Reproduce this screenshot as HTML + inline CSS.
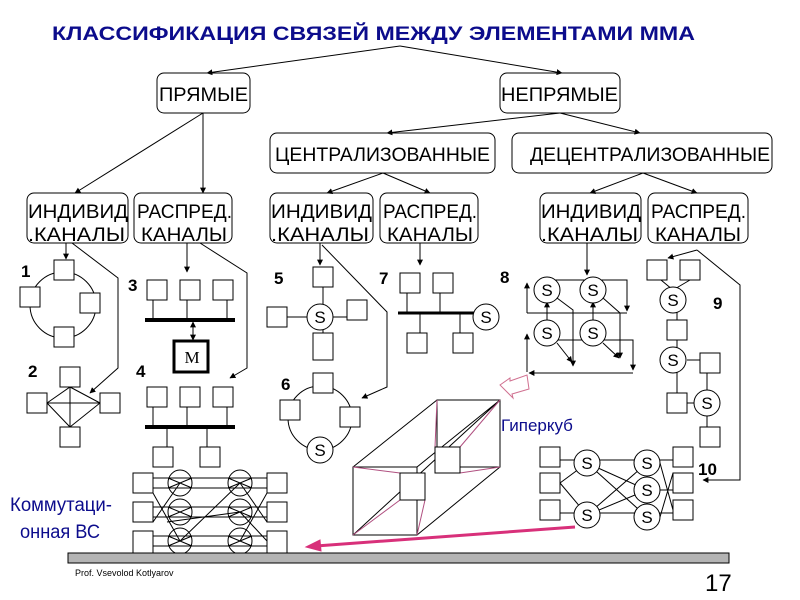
<!DOCTYPE html>
<html><head><meta charset="utf-8"><style>
html,body{margin:0;padding:0;background:#fff}
svg{display:block}
text{font-family:"Liberation Sans",sans-serif}
.b{font-family:"Liberation Sans",sans-serif;font-size:19px;fill:#000}
.n{font-family:"Liberation Serif",serif;font-weight:bold;font-size:17px}
.s{font-family:"Liberation Serif",serif;font-size:17px;text-anchor:middle}
</style></head><body>
<svg width="800" height="600" viewBox="0 0 800 600" xmlns="http://www.w3.org/2000/svg">
<defs><marker id="a" viewBox="0 0 10 10" refX="9" refY="5" markerWidth="6" markerHeight="6" orient="auto"><path d="M0,0L10,5L0,10z"/></marker></defs>
<text x="52" y="40" textLength="643" lengthAdjust="spacingAndGlyphs" font-size="19" font-weight="bold" fill="#0c0c8c">КЛАССИФИКАЦИЯ СВЯЗЕЙ МЕЖДУ ЭЛЕМЕНТАМИ ММА</text>
<g stroke="#000" fill="none" stroke-width="1">
<line x1="400" y1="46" x2="207" y2="73" marker-end="url(#a)"/>
<line x1="400" y1="46" x2="562" y2="73" marker-end="url(#a)"/>
<rect x="157" y="73" width="93" height="40" rx="7"/>
<rect x="500" y="73" width="120" height="40" rx="7"/>
<line x1="560" y1="113" x2="387" y2="133" marker-end="url(#a)"/>
<line x1="560" y1="113" x2="640" y2="133" marker-end="url(#a)"/>
<rect x="270" y="133" width="225" height="40" rx="7"/>
<rect x="512" y="133" width="260" height="40" rx="7"/>
<line x1="203" y1="113" x2="75" y2="193" marker-end="url(#a)"/>
<line x1="203" y1="113" x2="203" y2="193" marker-end="url(#a)"/>
<line x1="383" y1="173" x2="327" y2="193" marker-end="url(#a)"/>
<line x1="383" y1="173" x2="430" y2="193" marker-end="url(#a)"/>
<line x1="643" y1="173" x2="590" y2="193" marker-end="url(#a)"/>
<line x1="643" y1="173" x2="697" y2="193" marker-end="url(#a)"/>
<rect x="27" y="193" width="101" height="50" rx="7"/>
<rect x="134" y="193" width="98" height="50" rx="7"/>
<rect x="270" y="193" width="103" height="50" rx="7"/>
<rect x="380" y="193" width="98" height="50" rx="7"/>
<rect x="540" y="193" width="101" height="50" rx="7"/>
<rect x="648" y="193" width="100" height="50" rx="7"/>
</g>
<g class="b" lengthAdjust="spacingAndGlyphs">
<text x="159" y="101" textLength="89" lengthAdjust="spacingAndGlyphs">ПРЯМЫЕ</text>
<text x="501" y="101" textLength="117" lengthAdjust="spacingAndGlyphs">НЕПРЯМЫЕ</text>
<text x="275" y="161" textLength="215" lengthAdjust="spacingAndGlyphs">ЦЕНТРАЛИЗОВАННЫЕ</text>
<text x="530" y="161" textLength="240" lengthAdjust="spacingAndGlyphs">ДЕЦЕНТРАЛИЗОВАННЫЕ</text>
<text x="28" y="218" textLength="100" lengthAdjust="spacingAndGlyphs">ИНДИВИД</text><text x="28" y="241" textLength="97" lengthAdjust="spacingAndGlyphs">.КАНАЛЫ</text>
<text x="137" y="218" textLength="95" lengthAdjust="spacingAndGlyphs">РАСПРЕД.</text><text x="141" y="241" textLength="86" lengthAdjust="spacingAndGlyphs">КАНАЛЫ</text>
<text x="271" y="218" textLength="101" lengthAdjust="spacingAndGlyphs">ИНДИВИД</text><text x="271" y="241" textLength="98" lengthAdjust="spacingAndGlyphs">.КАНАЛЫ</text>
<text x="383" y="218" textLength="94" lengthAdjust="spacingAndGlyphs">РАСПРЕД.</text><text x="387" y="241" textLength="86" lengthAdjust="spacingAndGlyphs">КАНАЛЫ</text>
<text x="541" y="218" textLength="100" lengthAdjust="spacingAndGlyphs">ИНДИВИД</text><text x="541" y="241" textLength="97" lengthAdjust="spacingAndGlyphs">.КАНАЛЫ</text>
<text x="651" y="218" textLength="95" lengthAdjust="spacingAndGlyphs">РАСПРЕД.</text><text x="655" y="241" textLength="86" lengthAdjust="spacingAndGlyphs">КАНАЛЫ</text>
</g>
<g class="n">
<text x="21" y="277">1</text><text x="128" y="291">3</text><text x="28" y="377">2</text><text x="136" y="377">4</text>
<text x="274" y="284">5</text><text x="379" y="284">7</text><text x="281" y="390">6</text>
<text x="500" y="283">8</text><text x="713" y="309">9</text><text x="698" y="475">10</text>
</g>
<g stroke="#000" fill="none" stroke-width="1">
<line x1="66" y1="243" x2="66" y2="259" marker-end="url(#a)"/>
<circle cx="63" cy="305" r="33"/>
<g fill="#fff"><rect x="54" y="260" width="20" height="20"/><rect x="20" y="287" width="20" height="20"/><rect x="80" y="293" width="20" height="20"/><rect x="54" y="327" width="20" height="20"/></g>
<polyline points="72,243 118,278 118,368 90,393" marker-end="url(#a)"/>
<path d="M47,403L70,387L100,403L70,427Z M47,403L100,403 M70,387L70,427 M47,403L70,427 M100,403L70,387"/>
<g fill="#fff"><rect x="60" y="367" width="20" height="20"/><rect x="27" y="393" width="20" height="20"/><rect x="100" y="393" width="20" height="20"/><rect x="60" y="427" width="20" height="20"/></g>
<line x1="187" y1="243" x2="187" y2="272" marker-end="url(#a)"/>
<rect x="147" y="280" width="20" height="20"/><rect x="180" y="280" width="20" height="20"/><rect x="213" y="280" width="20" height="20"/>
<path d="M153,300V320M187,300V320M227,300V320"/>
<line x1="145" y1="320" x2="235" y2="320" stroke-width="4"/>
<line x1="193" y1="330" x2="193" y2="340" marker-end="url(#a)"/>
<line x1="193" y1="332" x2="193" y2="322" marker-end="url(#a)"/>
<rect x="174" y="341" width="34" height="31" stroke-width="3"/>
<polyline points="200,243 247,273 247,368 230,378" marker-end="url(#a)"/>
<rect x="147" y="387" width="20" height="20"/><rect x="180" y="387" width="20" height="20"/><rect x="213" y="387" width="20" height="20"/>
<path d="M153,407V427M187,407V427M227,407V427M167,427V447M207,427V447"/>
<line x1="145" y1="427" x2="235" y2="427" stroke-width="4"/>
<rect x="153" y="447" width="20" height="20"/><rect x="200" y="447" width="20" height="20"/>
<path d="M153,478H267M153,488H267M153,507H267M153,517H267M153,536H267M153,546H267M153,493L180,541M153,522L180,483M167,522L240,512M180,541L240,483M240,483L267,522M240,512L267,541M267,493L240,541"/>
<g fill="#fff"><rect x="133" y="473" width="20" height="20"/><rect x="133" y="502" width="20" height="20"/><rect x="133" y="531" width="20" height="22"/><rect x="267" y="473" width="20" height="20"/><rect x="267" y="502" width="20" height="20"/><rect x="267" y="531" width="20" height="22"/></g>
<ellipse cx="180" cy="483" rx="12" ry="13"/><ellipse cx="180" cy="512" rx="12" ry="13"/><ellipse cx="180" cy="541" rx="12" ry="13"/>
<ellipse cx="240" cy="483" rx="12" ry="13"/><ellipse cx="240" cy="512" rx="12" ry="13"/><ellipse cx="240" cy="541" rx="12" ry="13"/>
<path d="M168,478L192,488M168,488L192,478M168,507L192,517M168,517L192,507M168,536L192,546M168,546L192,536M228,478L252,488M228,488L252,478M228,507L252,517M228,517L252,507M228,536L252,546M228,546L252,536"/>
<line x1="320" y1="243" x2="320" y2="265" marker-end="url(#a)"/>
<path d="M323,287V333M287,317H347"/>
<g fill="#fff"><rect x="313" y="267" width="20" height="20"/><rect x="267" y="307" width="20" height="20"/><rect x="347" y="300" width="20" height="20"/><rect x="313" y="333" width="20" height="27"/><circle cx="320" cy="317" r="13"/></g>
<polyline points="322,245 387,312 387,387 362,398" marker-end="url(#a)"/>
<circle cx="320" cy="418" r="32"/>
<g fill="#fff"><rect x="313" y="373" width="20" height="20"/><rect x="280" y="400" width="20" height="20"/><rect x="340" y="407" width="20" height="20"/><circle cx="320" cy="450" r="13"/></g>
<line x1="420" y1="243" x2="420" y2="265" marker-end="url(#a)"/>
<rect x="400" y="273" width="20" height="20"/><rect x="433" y="273" width="20" height="20"/>
<path d="M407,293V313M440,293V313M420,313V333M460,313V333"/>
<line x1="398" y1="313" x2="475" y2="313" stroke-width="3"/>
<circle cx="486" cy="317" r="13" fill="#fff"/>
<rect x="407" y="333" width="20" height="20"/><rect x="453" y="333" width="20" height="20"/>
<rect x="353" y="467" width="64" height="68"/><rect x="437" y="400" width="63" height="67"/>
<path d="M353,467L437,400M417,467L500,400M417,535L500,467M353,535L500,400"/>
<path d="M353,467L400,473M417,535L425,500M437,400L435,447M500,467L460,473M353,535L400,500M500,400L460,447" stroke="#b05080"/>
<rect x="400" y="473" width="25" height="27" fill="#fff"/><rect x="435" y="447" width="25" height="26" fill="#fff"/>
<path d="M500,385L510,378L510,381L527,375L529,389L512,394L513,398Z" stroke="#d07090" fill="#fff"/>
<line x1="575" y1="527" x2="316" y2="546" stroke="#d8307a" stroke-width="3"/>
<path d="M306,547L320,540L321,551Z" fill="#d8307a" stroke="#d8307a"/>
<line x1="587" y1="243" x2="587" y2="275" marker-end="url(#a)"/>
<path d="M547,280H627V310M527,313H627M527,313V285M547,340H633V368M633,373H531M527,372V336"/>
<line x1="627" y1="300" x2="627" y2="311" marker-end="url(#a)"/>
<line x1="527" y1="300" x2="527" y2="283" marker-end="url(#a)"/>
<line x1="633" y1="360" x2="633" y2="370" marker-end="url(#a)"/>
<line x1="560" y1="373" x2="529" y2="373" marker-end="url(#a)"/>
<line x1="527" y1="350" x2="527" y2="334" marker-end="url(#a)"/>
<line x1="547" y1="320" x2="547" y2="302" marker-end="url(#a)"/>
<line x1="593" y1="320" x2="593" y2="302" marker-end="url(#a)"/>
<polyline points="557,298 573,310 573,366" marker-end="url(#a)"/>
<polyline points="603,298 620,313 620,358" marker-end="url(#a)"/>
<line x1="557" y1="343" x2="572" y2="362" marker-end="url(#a)"/>
<line x1="603" y1="343" x2="619" y2="358" marker-end="url(#a)"/>
<g fill="#fff"><circle cx="547" cy="290" r="13"/><circle cx="593" cy="290" r="13"/><circle cx="547" cy="333" r="13"/><circle cx="593" cy="333" r="13"/></g>
<line x1="697" y1="250" x2="668" y2="258" marker-end="url(#a)"/>
<polyline points="697,250 740,285 740,480 703,480" marker-end="url(#a)"/>
<path d="M661,280L673,290M690,280L673,290M677,300V393M687,360H707V403M687,403H707M707,403V427"/>
<g fill="#fff"><rect x="647" y="260" width="20" height="20"/><rect x="680" y="260" width="20" height="20"/><circle cx="673" cy="300" r="13"/><rect x="667" y="320" width="20" height="20"/><circle cx="673" cy="360" r="13"/><rect x="700" y="353" width="20" height="20"/><rect x="667" y="393" width="20" height="20"/><circle cx="707" cy="403" r="13"/><rect x="700" y="427" width="20" height="20"/></g>
<path d="M560,460H673M560,513H673M560,483L587,463M560,483L587,515M587,463L647,517M587,463L647,490M587,515L647,463M587,515L647,490M647,490H673M660,463L673,510M660,517L673,473"/>
<g fill="#fff"><rect x="540" y="447" width="20" height="20"/><rect x="540" y="473" width="20" height="20"/><rect x="540" y="500" width="20" height="20"/><rect x="673" y="447" width="20" height="20"/><rect x="673" y="473" width="20" height="20"/><rect x="673" y="500" width="20" height="20"/>
<circle cx="587" cy="463" r="13"/><circle cx="587" cy="515" r="13"/><circle cx="647" cy="463" r="13"/><circle cx="647" cy="490" r="13"/><circle cx="647" cy="517" r="13"/></g>
</g>
<text class="s" x="192" y="363" font-size="18">М</text>
<g class="s">
<text x="320" y="323">S</text><text x="320" y="456">S</text><text x="486" y="323">S</text>
<text x="547" y="296">S</text><text x="593" y="296">S</text><text x="547" y="339">S</text><text x="593" y="339">S</text>
<text x="673" y="306">S</text><text x="673" y="366">S</text><text x="707" y="409">S</text>
<text x="587" y="469">S</text><text x="587" y="521">S</text><text x="647" y="469">S</text><text x="647" y="496">S</text><text x="647" y="523">S</text>
</g>
<text x="501" y="431" font-family="Liberation Serif,serif" font-size="17" fill="#0c0c8c">Гиперкуб</text>
<text x="10" y="511" textLength="102" lengthAdjust="spacingAndGlyphs" font-family="Liberation Serif,serif" font-size="19" fill="#0c0c8c">Коммутаци-</text>
<text x="20" y="538" textLength="80" lengthAdjust="spacingAndGlyphs" font-family="Liberation Serif,serif" font-size="19" fill="#0c0c8c">онная ВС</text>
<rect x="68" y="553" width="661" height="10" fill="#b4b4b4" stroke="#000"/>
<text x="75" y="576" font-family="Liberation Serif,serif" font-size="9">Prof. Vsevolod Kotlyarov</text>
<text x="705" y="591" font-size="24">17</text>
</svg>
</body></html>
